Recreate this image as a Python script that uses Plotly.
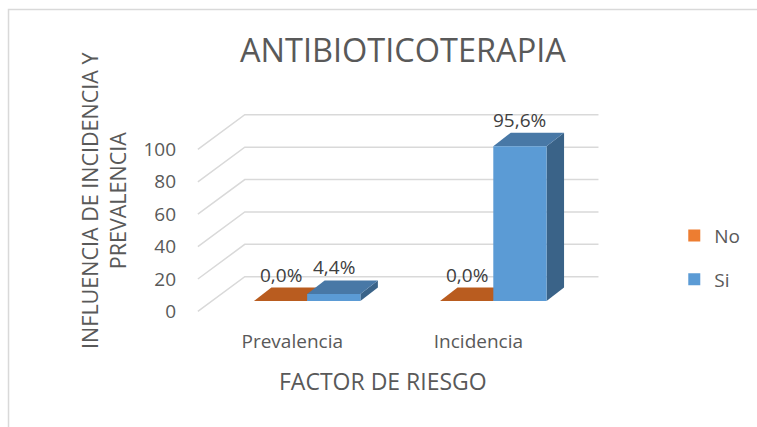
import plotly.graph_objects as go

# ---- data ----
categories = ["Prevalencia", "Incidencia"]
series_names = ["No", "Si"]
no_values = [0.0, 0.0]
si_values = [4.4, 95.6]
y_ticks = [0, 20, 40, 60, 80, 100]
title_text = "ANTIBIOTICOTERAPIA"
x_title = "FACTOR DE RIESGO"
y_title = "INFLUENCIA DE INCIDENCIA Y<br>PREVALENCIA"

# ---- styling / geometry (pseudo 3D) ----
W = 0.286          # bar width (category units)
DDX, DDY = 0.094, 8.3   # depth offset of bars
FRONT = -6.4       # front plane offset (value units)
BACK = 15.0        # back wall offset
XF, XB, XR = -0.587, -0.335, 1.565
front_colors = {"No": "#ED7D31", "Si": "#5B9BD5"}
top_colors = {"No": "#B95C1F", "Si": "#4878A6"}
side_colors = {"No": "#9E4E1A", "Si": "#3A6388"}
grid_color = "#D9D9D9"
txt = "#595959"
FONT = "Open Sans"

W_FIG, H_FIG = 757, 427
ML, MR, MT, MB = 180, 147, 100, 107
XR_RANGE = [-0.683, 1.600]
YR_RANGE = [-11.7, 124.1]

fig = go.Figure()

# gridlines (front diagonal + back wall)
for v in y_ticks:
    fig.add_trace(go.Scatter(
        x=[XF, XB, XR], y=[v + FRONT, v + BACK, v + BACK],
        mode="lines", line=dict(color=grid_color, width=1.5),
        hoverinfo="skip", showlegend=False))

series = {"No": no_values, "Si": si_values}
offsets = {"No": -W, "Si": 0.0}

# depth faces (top and side)
for i, cat in enumerate(categories):
    for name in series_names:
        v = series[name][i]
        l = i + offsets[name]
        fig.add_trace(go.Scatter(
            x=[l + W, l + W, l + W + DDX, l + W + DDX, l + W],
            y=[0, v, v + DDY, DDY, 0],
            fill="toself", fillcolor=side_colors[name], mode="lines",
            line=dict(width=0, color=side_colors[name]),
            hoverinfo="skip", showlegend=False))
        fig.add_trace(go.Scatter(
            x=[l, l + W, l + W + DDX, l + DDX, l],
            y=[v, v, v + DDY, v + DDY, v],
            fill="toself", fillcolor=top_colors[name], mode="lines",
            line=dict(width=0, color=top_colors[name]),
            hoverinfo="skip", showlegend=False))

# front faces (bars) on overlaid axes so they sit on top
for name in series_names:
    fig.add_trace(go.Bar(
        x=list(range(len(categories))), y=series[name], name=name,
        width=W, offset=offsets[name], marker=dict(color=front_colors[name], line=dict(width=0)),
        xaxis="x2", yaxis="y2", legendgroup=name))

# data labels
for name in series_names:
    for i, v in enumerate(series[name]):
        fig.add_annotation(
            x=i + offsets[name] + W / 2, y=v + DDY, xref="x", yref="y",
            text=f"{v:.1f}%".replace(".", ","), showarrow=False,
            xanchor="center", yanchor="middle",
            yshift=13, font=dict(family=FONT, size=19, color="#404040"))

fig.update_layout(
    xaxis=dict(range=XR_RANGE, showgrid=False, zeroline=False, showline=False,
               tickvals=[i - 0.08 for i in range(len(categories))], ticktext=categories,
               ticks="", tickfont=dict(family=FONT, size=19, color=txt), ticklabelstandoff=8),
    yaxis=dict(range=YR_RANGE, showgrid=False, zeroline=False, showline=False,
               tickvals=[v + FRONT for v in y_ticks], ticktext=[str(v) for v in y_ticks],
               ticks="", tickfont=dict(family=FONT, size=19, color=txt), ticklabelstandoff=3),
    xaxis2=dict(range=XR_RANGE, overlaying="x", visible=False),
    yaxis2=dict(range=YR_RANGE, overlaying="y", visible=False),
    barmode="overlay",
    width=W_FIG, height=H_FIG,
    margin=dict(l=ML, r=MR, t=MT, b=MB),
    paper_bgcolor="white", plot_bgcolor="white",
    showlegend=True,
    legend=dict(x=1.163, y=0.47, xanchor="left", yanchor="top",
                font=dict(family=FONT, size=19, color=txt), tracegroupgap=16,
                itemwidth=30, bgcolor="rgba(0,0,0,0)"),
)

pw = W_FIG - ML - MR
ph = H_FIG - MT - MB
def px2paper_x(px):
    return (px - ML) / pw
def px2paper_y(py):
    return (H_FIG - MB - py) / ph

fig.add_annotation(text=title_text, xref="paper", yref="paper",
                   x=px2paper_x(406), y=px2paper_y(50), showarrow=False,
                   xanchor="center", yanchor="middle",
                   font=dict(family=FONT, size=32.5, color=txt))
fig.add_annotation(text=x_title, xref="paper", yref="paper",
                   x=px2paper_x(385), y=px2paper_y(381), showarrow=False,
                   xanchor="center", yanchor="middle",
                   font=dict(family=FONT, size=23, color=txt))
fig.add_annotation(text=y_title, xref="paper", yref="paper",
                   x=px2paper_x(102), y=px2paper_y(200), showarrow=False, textangle=-90,
                   xanchor="center", yanchor="middle",
                   font=dict(family=FONT, size=21.5, color=txt))

fig.add_shape(type="rect", xref="paper", yref="paper",
              x0=px2paper_x(6.5), x1=px2paper_x(770), y0=px2paper_y(440), y1=px2paper_y(9.5),
              line=dict(color="#D9D9D9", width=1.5), fillcolor="rgba(0,0,0,0)", layer="below")

fig.write_html("out.html", post_script="document.body.style.margin='0';",
               config={"displayModeBar": False})
